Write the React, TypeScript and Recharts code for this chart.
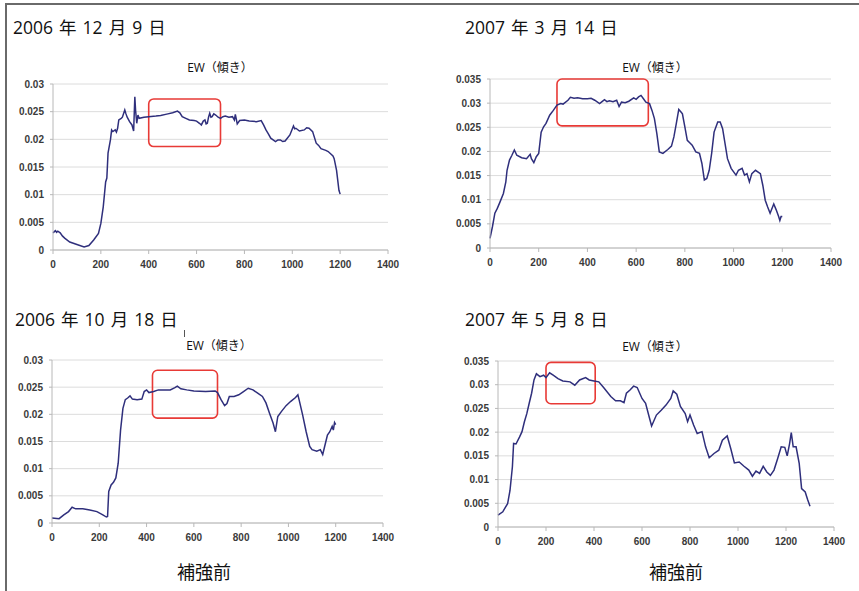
import React from 'react';
import { LineChart, Line, XAxis, YAxis, CartesianGrid, ReferenceArea } from 'recharts';

const xTicks = [0, 200, 400, 600, 800, 1000, 1200, 1400];
const yTicks30 = [0, 0.005, 0.01, 0.015, 0.02, 0.025, 0.03];
const yTicks35 = [0, 0.005, 0.01, 0.015, 0.02, 0.025, 0.03, 0.035];

const chartTitle = 'EW（傾き）';
const beforeLabel = '補強前';
const dateLabels = ['2006 年 12 月 9 日', '2007 年 3 月 14 日', '2006 年 10 月 18 日', '2007 年 5 月 8 日'];

// [position, EW]
const dec2006: number[][] = [
  [0, 0.0031], [10, 0.0035], [15, 0.0032], [20, 0.0034], [30, 0.0031], [40, 0.0025], [50, 0.0021],
  [70, 0.00145], [100, 0.001], [130, 0.00055], [150, 0.0008], [170, 0.0018], [190, 0.003],
  [200, 0.0048], [210, 0.0078], [220, 0.0123], [225, 0.013], [230, 0.0175], [240, 0.0199],
  [245, 0.0217], [250, 0.0214], [260, 0.0217], [265, 0.0213], [270, 0.022], [275, 0.0235],
  [285, 0.0238], [290, 0.024], [300, 0.0253], [305, 0.0246], [310, 0.024], [320, 0.0232],
  [330, 0.0226], [337, 0.0215], [342, 0.0277], [345, 0.0253], [350, 0.0229], [355, 0.0244],
  [360, 0.0238], [380, 0.0240], [400, 0.0241], [430, 0.0242], [450, 0.0243], [480, 0.0246],
  [500, 0.0248], [520, 0.0251], [530, 0.0248], [540, 0.0241], [555, 0.0238], [570, 0.0235],
  [590, 0.0234], [600, 0.0233], [612, 0.0229], [620, 0.0226], [628, 0.0233], [635, 0.0235],
  [640, 0.0228], [645, 0.0229], [650, 0.0240], [655, 0.0247], [660, 0.0240], [665, 0.0241],
  [672, 0.0246], [680, 0.0244], [690, 0.0240], [700, 0.0238], [710, 0.0241], [720, 0.0242],
  [735, 0.0240], [750, 0.0241], [758, 0.0235], [762, 0.0245], [770, 0.0228], [780, 0.0234],
  [800, 0.0235], [820, 0.0233], [850, 0.0232], [870, 0.0234], [880, 0.0226], [890, 0.0217],
  [900, 0.0210], [910, 0.0202], [930, 0.0196], [940, 0.0199], [950, 0.0199], [960, 0.0196],
  [970, 0.0197], [990, 0.0208], [1005, 0.0224], [1010, 0.0219], [1015, 0.022], [1030, 0.0215],
  [1050, 0.0217], [1060, 0.0221], [1070, 0.022], [1085, 0.0214], [1100, 0.0193], [1110, 0.0189],
  [1120, 0.0183], [1140, 0.018], [1150, 0.0178], [1160, 0.0174], [1170, 0.0170], [1175, 0.0165],
  [1185, 0.0144], [1195, 0.0108], [1200, 0.0101],
];

const mar2007: number[][] = [
  [0, 0.002], [10, 0.0044], [20, 0.0072], [30, 0.0082], [40, 0.0094], [55, 0.0113], [65, 0.0137],
  [70, 0.0161], [80, 0.0182], [90, 0.0192], [100, 0.0203], [110, 0.0192], [130, 0.0187],
  [150, 0.0185], [165, 0.0194], [170, 0.0185], [180, 0.0177], [190, 0.0189], [200, 0.0196],
  [210, 0.024], [220, 0.0251], [230, 0.0258], [245, 0.0275], [260, 0.0285], [275, 0.0296],
  [290, 0.0299], [300, 0.0298], [320, 0.0306], [330, 0.0312], [345, 0.0310], [360, 0.0311],
  [380, 0.0309], [400, 0.0309], [415, 0.0310], [430, 0.0306], [450, 0.0299], [460, 0.0303],
  [470, 0.0307], [480, 0.0303], [490, 0.0305], [505, 0.0303], [520, 0.0306], [530, 0.0293],
  [540, 0.0302], [555, 0.0301], [570, 0.0304], [590, 0.0311], [600, 0.0308], [610, 0.0313],
  [620, 0.0316], [630, 0.0309], [640, 0.0302], [655, 0.0299], [665, 0.0285], [675, 0.0268],
  [685, 0.0237], [695, 0.0199], [710, 0.0196], [730, 0.0204], [745, 0.0211], [755, 0.023],
  [765, 0.0258], [775, 0.0287], [785, 0.0281], [790, 0.0278], [800, 0.0251], [810, 0.0223],
  [820, 0.0218], [830, 0.0213], [845, 0.0199], [860, 0.0196], [870, 0.0175], [880, 0.0141],
  [890, 0.0144], [900, 0.0161], [910, 0.0196], [920, 0.024], [935, 0.0261], [945, 0.0261],
  [955, 0.0247], [965, 0.0216], [975, 0.0185], [990, 0.0165], [1010, 0.0151], [1020, 0.0161],
  [1035, 0.0165], [1045, 0.0151], [1055, 0.0154], [1065, 0.0137], [1075, 0.0154], [1090, 0.0161],
  [1110, 0.0154], [1120, 0.013], [1130, 0.0099], [1140, 0.0085], [1150, 0.0072], [1165, 0.0091],
  [1175, 0.0079], [1185, 0.0065], [1190, 0.0057], [1195, 0.0065], [1200, 0.0065],
];

const oct2006: number[][] = [
  [0, 0.0009], [30, 0.0008], [50, 0.0015], [70, 0.0021], [85, 0.0029], [100, 0.0026], [130, 0.0026],
  [160, 0.0024], [190, 0.0021], [215, 0.0015], [230, 0.0011], [235, 0.0012], [240, 0.0058],
  [250, 0.007], [260, 0.0075], [270, 0.0083], [280, 0.011], [290, 0.0171], [300, 0.0211],
  [310, 0.0227], [320, 0.023], [330, 0.0234], [340, 0.0228], [360, 0.0227], [380, 0.0228],
  [390, 0.0242], [400, 0.0245], [410, 0.024], [430, 0.0242], [450, 0.0245], [500, 0.0245],
  [520, 0.0249], [530, 0.0252], [545, 0.0247], [570, 0.0245], [600, 0.0243], [650, 0.0242],
  [690, 0.0243], [700, 0.024], [715, 0.0227], [730, 0.0216], [740, 0.022], [750, 0.0233],
  [770, 0.0233], [790, 0.0236], [810, 0.0242], [830, 0.0248], [850, 0.0245], [870, 0.0239],
  [890, 0.0233], [905, 0.0221], [920, 0.0202], [935, 0.0184], [945, 0.0168], [955, 0.0196],
  [970, 0.0205], [990, 0.0216], [1010, 0.0224], [1030, 0.0231], [1040, 0.0236], [1045, 0.0227],
  [1060, 0.0199], [1075, 0.0168], [1090, 0.0141], [1100, 0.0135], [1120, 0.0132], [1135, 0.0135],
  [1145, 0.0126], [1155, 0.0144], [1165, 0.0162], [1175, 0.0168], [1185, 0.0178], [1190, 0.0171],
  [1195, 0.0185], [1200, 0.0181],
];

const may2007: number[][] = [
  [0, 0.0025], [20, 0.0032], [30, 0.0041], [40, 0.0049], [50, 0.0077], [60, 0.0127], [65, 0.0176],
  [75, 0.0175], [90, 0.019], [100, 0.0201], [110, 0.0222], [120, 0.0239], [130, 0.0261],
  [140, 0.0282], [150, 0.031], [160, 0.0323], [175, 0.0317], [190, 0.032], [200, 0.0315],
  [215, 0.0325], [230, 0.032], [250, 0.0313], [270, 0.0308], [300, 0.0306], [320, 0.0299],
  [340, 0.031], [365, 0.0315], [380, 0.031], [400, 0.0308], [420, 0.0306], [440, 0.0294],
  [470, 0.0275], [490, 0.0266], [510, 0.0266], [525, 0.0262], [535, 0.0282], [550, 0.0289],
  [565, 0.0297], [580, 0.0294], [600, 0.0271], [615, 0.0261], [630, 0.0232], [640, 0.0213],
  [660, 0.0236], [680, 0.0246], [700, 0.0257], [720, 0.0271], [730, 0.0287], [745, 0.028],
  [760, 0.0254], [780, 0.0239], [790, 0.0222], [800, 0.0236], [815, 0.0215], [830, 0.0197],
  [850, 0.0201], [865, 0.0169], [880, 0.0146], [900, 0.0155], [920, 0.0162], [935, 0.0183],
  [955, 0.0192], [970, 0.0165], [985, 0.0135], [1005, 0.0137], [1025, 0.0128], [1045, 0.012],
  [1060, 0.0107], [1075, 0.0118], [1090, 0.0113], [1105, 0.0128], [1120, 0.0116], [1135, 0.0109],
  [1150, 0.012], [1165, 0.0144], [1180, 0.0169], [1195, 0.0168], [1205, 0.015], [1215, 0.0176],
  [1222, 0.0199], [1230, 0.0169], [1242, 0.0169], [1255, 0.0134], [1265, 0.0081], [1280, 0.0074],
  [1290, 0.0058], [1300, 0.0044],
];

// highlighted regions: [x1, x2, y1, y2]
const box1 = [400, 700, 0.0187, 0.0273];
const box2 = [275, 650, 0.0253, 0.035];
const box3 = [425, 700, 0.0193, 0.0281];
const box4 = [200, 405, 0.026, 0.0347];

const LINE = '#2f2f7c';
const tickStyle = { fontSize: 10, fontWeight: 700, fill: '#3a3a3a', fontFamily: 'Liberation Sans, Arial, sans-serif' };

type PanelProps = {
  pl: number; pt: number; pr: number; pb: number;
  series: number[][]; yTicks: number[]; yMax: number; box: number[];
};

const Panel = ({ pl, pt, pr, pb, series, yTicks, yMax, box }: PanelProps) => {
  const data = series.map(([x, y]) => ({ x, y }));
  const yw = 55, padT = 10, padR = 12, xh = 30;
  return (
    <div style={{ position: 'absolute', left: pl - yw, top: pt - padT }}>
      <LineChart
        width={pr - pl + yw + padR}
        height={pb - pt + padT + xh}
        data={data}
        margin={{ top: padT, right: padR, bottom: 0, left: 0 }}
      >
        <CartesianGrid vertical={false} stroke="#dcdcdc" strokeWidth={1} />
        <XAxis
          dataKey="x" type="number" domain={[0, 1400]} ticks={xTicks} interval={0}
          height={xh} tickSize={4} tickMargin={7} tick={tickStyle}
          stroke="#b8b8b8"
        />
        <YAxis
          type="number" domain={[0, yMax]} ticks={yTicks} interval={0} width={yw}
          tickSize={3} tickMargin={6} tick={tickStyle} stroke="#b8b8b8"
        />
        <ReferenceArea
          x1={box[0]} x2={box[1]} y1={box[2]} y2={box[3]}
          shape={(p: any) => (
            <rect x={p.x} y={p.y} width={p.width} height={p.height} rx={5} ry={5}
              fill="none" stroke="#e83a36" strokeWidth={1.6} />
          )}
        />
        <Line dataKey="y" stroke={LINE} strokeWidth={1.5} dot={false} isAnimationActive={false} type="linear" />
      </LineChart>
    </div>
  );
};

const jp = '"Open Sans", "Noto Sans CJK JP", "Noto Sans", sans-serif';

const Label = ({ x, y, text, size, center, ws }: { x: number; y: number; text: string; size: number; center?: boolean; ws?: number }) => (
  <div style={{
    position: 'absolute', left: x, top: y - size * 0.7, lineHeight: `${size * 1.4}px`,
    fontSize: size, fontFamily: jp, color: '#111', whiteSpace: 'nowrap', wordSpacing: ws ?? 0,
    transform: center ? 'translateX(-50%)' : undefined,
  }}>{text}</div>
);

export default function App() {
  return (
    <div style={{ position: 'absolute', left: 0, top: 0, width: 859, height: 591, background: '#fff', overflow: 'hidden' }}>
      <div style={{ position: 'absolute', left: 5, top: 3, width: 900, height: 700, borderLeft: '2px solid #6a6a6a', borderTop: '2px solid #6a6a6a' }} />

      <Panel pl={53} pt={84} pr={388} pb={250} series={dec2006} yTicks={yTicks30} yMax={0.03} box={box1} />
      <Panel pl={490} pt={79} pr={831} pb={248} series={mar2007} yTicks={yTicks35} yMax={0.035} box={box2} />
      <Panel pl={52} pt={360} pr={383} pb={523} series={oct2006} yTicks={yTicks30} yMax={0.03} box={box3} />
      <Panel pl={498} pt={361} pr={834} pb={527} series={may2007} yTicks={yTicks35} yMax={0.035} box={box4} />

      <Label x={13} y={27} text={dateLabels[0]} size={17.5} ws={1.5} />
      <Label x={465} y={27} text={dateLabels[1]} size={17.5} ws={1.5} />
      <Label x={15} y={319} text={dateLabels[2]} size={17.5} ws={1.5} />
      <Label x={465} y={319} text={dateLabels[3]} size={17.5} ws={1.5} />

      <Label x={220} y={68} text={chartTitle} size={12} center />
      <Label x={655} y={68} text={chartTitle} size={12} center />
      <Label x={219} y={346} text={chartTitle} size={12} center />
      <Label x={655} y={347} text={chartTitle} size={12} center />

      <div style={{ position: 'absolute', left: 184, top: 330, width: 1, height: 7, background: '#555' }} />

      <Label x={204} y={573} text={beforeLabel} size={18} center />
      <Label x={676} y={573} text={beforeLabel} size={18} center />
    </div>
  );
}
